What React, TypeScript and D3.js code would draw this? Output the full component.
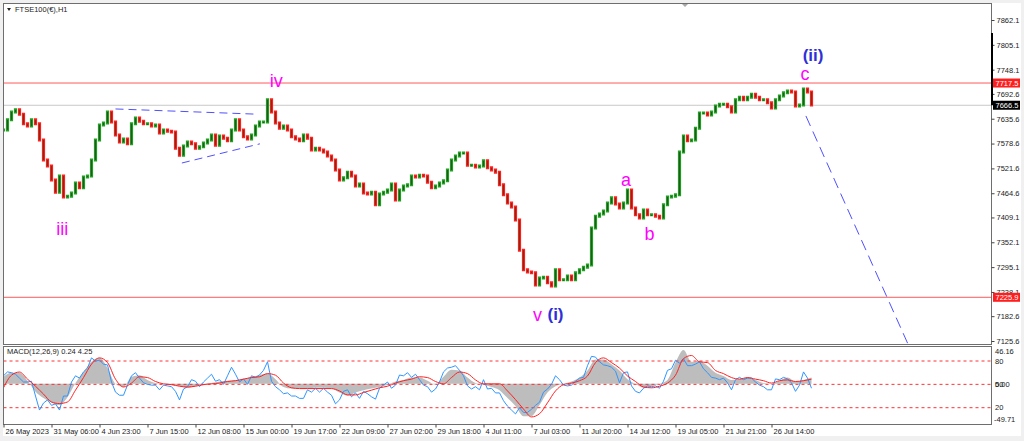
import React, { useEffect, useRef } from "react";
import * as d3 from "d3";

// ---- data ----
const symbolTitle = "FTSE100(€),H1";
const macdTitle = "MACD(12,26,9) 0.24 4.25";

// closing prices, one candle per slot (oldest first)
const closes = [
  7610, 7633, 7651, 7656, 7646, 7624, 7619, 7633, 7624, 7587,
  7541, 7527, 7495, 7467, 7504, 7456, 7458, 7465, 7488, 7477,
  7502, 7504, 7541, 7587, 7621, 7626, 7651, 7628, 7598, 7582,
  7589, 7578, 7624, 7637, 7630, 7624, 7624, 7619, 7621, 7603,
  7610, 7607, 7605, 7568, 7552, 7573, 7582, 7578, 7568, 7571,
  7580, 7587, 7598, 7575, 7596, 7591, 7585, 7610, 7633, 7610,
  7594, 7589, 7598, 7619, 7628, 7628, 7679, 7651, 7626, 7614,
  7619, 7610, 7594, 7589, 7585, 7598, 7591, 7564, 7568, 7564,
  7559, 7550, 7541, 7518, 7495, 7500, 7513, 7504, 7481, 7486,
  7465, 7463, 7467, 7438, 7463, 7467, 7472, 7486, 7449, 7472,
  7481, 7484, 7504, 7502, 7506, 7504, 7490, 7477, 7481, 7488,
  7493, 7518, 7541, 7550, 7557, 7557, 7529, 7529, 7525, 7527,
  7539, 7523, 7518, 7513, 7484, 7461, 7442, 7433, 7403, 7334,
  7289, 7284, 7282, 7254, 7270, 7272, 7259, 7252, 7289, 7266,
  7266, 7275, 7266, 7282, 7289, 7295, 7300, 7385, 7412, 7417,
  7424, 7442, 7454, 7440, 7431, 7442, 7472, 7431, 7415, 7408,
  7426, 7415, 7415, 7412, 7408, 7438, 7456, 7458, 7461, 7559,
  7596, 7585, 7587, 7614, 7649, 7649, 7644, 7651, 7665, 7669,
  7669, 7663, 7651, 7679, 7685, 7679, 7685, 7692, 7685, 7679,
  7679, 7672, 7660, 7679, 7688, 7695, 7699, 7697, 7665, 7667,
  7704, 7697, 7667,
];

// MACD main (grey histogram) and signal (red), every second slot
const macdMain = [
  9, 14, 14, 4, -10, -18, -24, -27, -17, 1,
  15, 28, 33, 20, 0, -4, 9, 11, 5, 1,
  0, -1, -3, -5, -3, 0, 1, 3, 4, 5,
  6, 9, 11, 13, 6, -4, -6, -6, -6, -5,
  -5, -6, -11, -15, -11, -8, -6, -4, -1, 3,
  5, 8, 8, 4, -1, 9, 18, 17, 8, 1,
  -1, -4, -8, -18, -28, -41, -41, -27, -11, -3,
  0, 3, 8, 17, 31, 31, 25, 17, 6, 0,
  -5, -3, 0, 5, 27, 43, 28, 29, 23, 14,
  10, 5, 6, 8, 5, 1, 0, 4, 8, 3,
  5, 8,
];
const macdSignal = [
  -5, 11, 15, 6, -3, -13, -23, -25, -23, -8,
  8, 25, 33, 27, 6, -4, 1, 9, 8, 3,
  0, -1, -3, -4, -3, -1, 0, 1, 3, 4,
  6, 8, 9, 13, 11, 1, -5, -6, -6, -6,
  -6, -6, -9, -14, -14, -11, -8, -5, -3, 1,
  4, 6, 9, 8, 3, 0, 8, 15, 13, 5,
  0, 0, 0, -9, -20, -32, -42, -38, -24, -9,
  -1, 1, 4, 10, 27, 33, 27, 20, 10, 3,
  -4, -5, -3, 1, 11, 32, 36, 28, 27, 17,
  13, 8, 6, 8, 6, 4, 1, 4, 5, 3,
  4, 6,
];

// blue oscillator (0..100 scale, levels 20/50/80), every slot
const oscLine = [
  61, 66, 65, 63, 58, 53, 53, 54, 35, 17,
  26, 30, 23, 25, 17, 35, 35, 53, 61, 58,
  66, 71, 84, 80, 81, 76, 75, 53, 40, 36,
  36, 49, 61, 65, 58, 52, 50, 49, 49, 43,
  49, 48, 47, 41, 30, 44, 47, 56, 54, 47,
  53, 58, 63, 54, 56, 50, 61, 72, 63, 53,
  57, 50, 61, 59, 62, 68, 79, 54, 47, 43,
  38, 39, 35, 35, 32, 32, 43, 40, 45, 40,
  45, 40, 36, 25, 30, 41, 43, 34, 39, 32,
  41, 38, 34, 31, 45, 49, 53, 45, 49, 62,
  61, 65, 59, 63, 56, 49, 47, 40, 44, 53,
  66, 71, 72, 74, 68, 61, 48, 44, 47, 43,
  56, 44, 45, 39, 39, 29, 22, 17, 12, 20,
  14, 14, 18, 23, 27, 40, 44, 50, 61, 56,
  49, 48, 49, 54, 58, 59, 74, 86, 85, 79,
  75, 74, 72, 67, 52, 65, 66, 48, 41, 39,
  45, 48, 47, 48, 45, 54, 68, 70, 81, 77,
  83, 74, 74, 76, 79, 70, 65, 59, 58, 56,
  58, 52, 43, 56, 59, 56, 58, 58, 53, 49,
  47, 43, 43, 57, 56, 59, 57, 52, 41, 49,
  66, 58, 45,
];

const priceTicks = [
  7862.1, 7805.1, 7748.1, 7692.6, 7635.6, 7578.6, 7521.6,
  7464.6, 7409.1, 7352.1, 7295.1, 7238.1, 7182.6, 7125.6,
];
const timeLabels = [
  "26 May 2023", "31 May 06:00", "4 Jun 23:00", "7 Jun 15:00", "12 Jun 08:00",
  "15 Jun 00:00", "19 Jun 17:00", "22 Jun 09:00", "27 Jun 02:00", "29 Jun 18:00",
  "4 Jul 11:00", "7 Jul 03:00", "11 Jul 20:00", "14 Jul 12:00", "19 Jul 05:00",
  "21 Jul 21:00", "26 Jul 14:00",
];
const slotsPerLabel = 12;

const resistance = 7717.5;
const support = 7225.9;
const bid = 7666.5;
const spreadTop = 7832;

const oscLevels = [80, 50, 20];
const macdMax = 46.16;
const macdMin = -49.71;

// Elliott wave labels (slot, price)
const waveLabels = [
  { text: "iii", slot: 14.7, price: 7369, kind: "minor" },
  { text: "iv", slot: 68.2, price: 7708, kind: "minor" },
  { text: "v", slot: 133.5, price: 7171, kind: "minor" },
  { text: "(i)", slot: 138, price: 7174, kind: "major" },
  { text: "a", slot: 155.6, price: 7481, kind: "minor" },
  { text: "b", slot: 161.5, price: 7357, kind: "minor" },
  { text: "c", slot: 200.4, price: 7724, kind: "minor" },
  { text: "(ii)", slot: 202.4, price: 7767, kind: "major" },
];

// drawn trend lines (slot, price) -> (slot, price)
const trendLines = [
  { s1: 28, p1: 7658, s2: 63.4, p2: 7646, dash: "8,5" },
  { s1: 44.6, p1: 7534, s2: 64.1, p2: 7578, dash: "8,5" },
  { s1: 200.6, p1: 7642, s2: 226.1, p2: 7119, dash: "11,6" },
];

const FONT = "'Liberation Sans', Arial, sans-serif";

const App: React.FC = () => {
  const svgRef = useRef<SVGSVGElement | null>(null);

  useEffect(() => {
    document.body.style.margin = "0";
    if (!svgRef.current) return;

    const W = 1024;
    const H = 441;
    const left = 3.5;
    const top = 3.5;
    const right = 991.5;
    const mainBottom = 344.5;
    const macdTop = 346.5;
    const macdBottom = 424.5;

    const svg = d3.select(svgRef.current).attr("width", W).attr("height", H);
    svg.selectAll("*").remove();

    // fond gris + zone blanche
    svg.append("rect").attr("width", W).attr("height", H).attr("fill", "#f0f0f0");
    svg.append("rect").attr("x", 3).attr("y", 3).attr("width", 1018).attr("height", 433).attr("fill", "#fff");

    // Échelles
    const x = d3.scaleLinear().domain([0, 247]).range([left, right]);
    const y = d3.scaleLinear().domain([7125.6, 7862.1]).range([341, 20]);
    const yMacd = d3.scaleLinear().domain([macdMin, macdMax]).range([423, 347.5]);
    const yOsc = d3.scaleLinear().domain([20, 80]).range([407.7, 361]);

    const defs = svg.append("defs");
    defs.append("clipPath").attr("id", "mainClip")
      .append("rect").attr("x", left).attr("y", top)
      .attr("width", right - left).attr("height", mainBottom - top);
    defs.append("clipPath").attr("id", "macdClip")
      .append("rect").attr("x", left).attr("y", macdTop)
      .attr("width", right - left).attr("height", macdBottom - macdTop);

    const main = svg.append("g").attr("clip-path", "url(#mainClip)");

    // niveaux horizontaux
    [resistance, support].forEach((p) => {
      main.append("line")
        .attr("x1", left).attr("x2", right)
        .attr("y1", y(p)).attr("y2", y(p))
        .style("stroke", "#ff5a5a").style("stroke-width", 1);
    });
    main.append("line")
      .attr("x1", left).attr("x2", right)
      .attr("y1", y(bid)).attr("y2", y(bid))
      .style("stroke", "#c8c8c8").style("stroke-width", 1);

    // bougies : mèche colorée + corps sombre
    const candles = closes.map((c, i) => ({ i, open: i === 0 ? c : closes[i - 1], close: c }));
    const gCandles = main.append("g");
    gCandles.selectAll("line.wick")
      .data(candles)
      .enter()
      .append("line")
      .attr("class", "wick")
      .attr("x1", (d) => x(d.i)).attr("x2", (d) => x(d.i))
      .attr("y1", (d) => y(Math.max(d.open, d.close)) - 1.5)
      .attr("y2", (d) => y(Math.min(d.open, d.close)) + 1.5)
      .style("stroke", (d) => (d.close >= d.open ? "#22a022" : "#ff2020"))
      .style("stroke-width", 3.2);
    gCandles.selectAll("rect.body")
      .data(candles)
      .enter()
      .append("rect")
      .attr("class", "body")
      .attr("x", (d) => x(d.i) - 0.6)
      .attr("y", (d) => y(Math.max(d.open, d.close)))
      .attr("width", 1.2)
      .attr("height", (d) => Math.max(1, Math.abs(y(d.open) - y(d.close))))
      .attr("fill", (d) => (d.close >= d.open ? "#1d5e1d" : "#8a2a10"));

    // lignes de tendance pointillées
    main.selectAll("line.trend")
      .data(trendLines)
      .enter()
      .append("line")
      .attr("class", "trend")
      .attr("x1", (d) => x(d.s1)).attr("y1", (d) => y(d.p1))
      .attr("x2", (d) => x(d.s2)).attr("y2", (d) => y(d.p2))
      .style("stroke", "#5050ff")
      .style("stroke-width", 1)
      .style("stroke-dasharray", (d) => d.dash);

    // étiquettes de vagues
    main.selectAll("text.wave")
      .data(waveLabels)
      .enter()
      .append("text")
      .attr("class", "wave")
      .attr("x", (d) => x(d.slot))
      .attr("y", (d) => y(d.price))
      .attr("text-anchor", "middle")
      .style("font-family", FONT)
      .style("font-size", (d) => (d.kind === "major" ? "17px" : "18px"))
      .style("font-weight", (d) => (d.kind === "major" ? "bold" : "normal"))
      .style("fill", (d) => (d.kind === "major" ? "#2f2fd8" : "#ff00ff"))
      .text((d) => d.text);

    // titre
    svg.append("path").attr("d", "M7,8 L11,8 L9,11 Z").attr("fill", "#222");
    svg.append("text")
      .attr("x", 15).attr("y", 12)
      .style("font-family", FONT).style("font-size", "7.5px").style("fill", "#222")
      .text(symbolTitle);

    // petit repère en haut
    svg.append("path").attr("d", "M681,3 L689,3 L685,7 Z").attr("fill", "#a8a8a8");

    // ---- panneau MACD ----
    const macd = svg.append("g").attr("clip-path", "url(#macdClip)");
    const macdPts = macdMain.map((v, j) => ({ s: j * 2, v }));
    const sigPts = macdSignal.map((v, j) => ({ s: j * 2, v }));

    macd.append("path")
      .datum(macdPts)
      .attr("d", d3.area<{ s: number; v: number }>()
        .x((d) => x(d.s))
        .y0(yMacd(0))
        .y1((d) => yMacd(d.v))
        .curve(d3.curveMonotoneX))
      .attr("fill", "#bdbdbd");

    oscLevels.forEach((lv) => {
      macd.append("line")
        .attr("x1", left).attr("x2", right)
        .attr("y1", yOsc(lv)).attr("y2", yOsc(lv))
        .style("stroke", "#ff3030").style("stroke-width", 1)
        .style("stroke-dasharray", "3,3");
    });

    macd.append("path")
      .datum(oscLine)
      .attr("d", d3.line<number>().x((_, i) => x(i)).y((d) => yOsc(d)))
      .attr("fill", "none")
      .style("stroke", "#2f96ff")
      .style("stroke-width", 1);

    macd.append("path")
      .datum(sigPts)
      .attr("d", d3.line<{ s: number; v: number }>()
        .x((d) => x(d.s)).y((d) => yMacd(d.v))
        .curve(d3.curveMonotoneX))
      .attr("fill", "none")
      .style("stroke", "#ff2020")
      .style("stroke-width", 1);

    svg.append("text")
      .attr("x", 7).attr("y", 354)
      .style("font-family", FONT).style("font-size", "7.5px").style("fill", "#222")
      .text(macdTitle);

    // cadres
    svg.append("rect")
      .attr("x", left).attr("y", top)
      .attr("width", right - left).attr("height", mainBottom - top)
      .attr("fill", "none").style("stroke", "#6e6e6e");
    svg.append("rect")
      .attr("x", left).attr("y", macdTop)
      .attr("width", right - left).attr("height", macdBottom - macdTop)
      .attr("fill", "none").style("stroke", "#6e6e6e");

    // Axe des prix (droite)
    const priceAxis = svg.append("g")
      .attr("transform", `translate(${right}, 0)`)
      .call(d3.axisRight(y).tickValues(priceTicks).tickSize(3).tickPadding(2)
        .tickFormat((d) => d3.format(".1f")(d as number)));
    priceAxis.select(".domain").remove();
    priceAxis.selectAll("line").style("stroke", "#444");
    priceAxis.selectAll("text")
      .style("font-family", FONT).style("font-size", "7.5px").style("fill", "#222");

    // trait noir sur l'axe
    svg.append("line")
      .attr("x1", right + 0.5).attr("x2", right + 0.5)
      .attr("y1", y(spreadTop)).attr("y2", y(bid))
      .style("stroke", "#000").style("stroke-width", 2);

    // étiquettes de prix colorées
    const priceTags = [
      { price: resistance, bg: "#ff1e1e" },
      { price: bid, bg: "#000" },
      { price: support, bg: "#ff1e1e" },
    ];
    priceTags.forEach((t) => {
      svg.append("rect")
        .attr("x", right + 1.5).attr("y", y(t.price) - 4.5)
        .attr("width", 27).attr("height", 9)
        .attr("fill", t.bg);
      svg.append("text")
        .attr("x", right + 4).attr("y", y(t.price) + 2.7)
        .style("font-family", FONT).style("font-size", "7.5px").style("fill", "#fff")
        .text(t.price.toFixed(1));
    });

    // Axe MACD (droite)
    const macdTags = [
      { label: macdMax.toFixed(2), py: yMacd(macdMax) + 3.5 },
      { label: "80", py: yOsc(80) },
      { label: "0.00", py: yMacd(0) },
      { label: "50", py: yOsc(50) },
      { label: "20", py: yOsc(20) },
      { label: macdMin.toFixed(2), py: yMacd(macdMin) - 4 },
    ];
    svg.selectAll("text.macdTag")
      .data(macdTags)
      .enter()
      .append("text")
      .attr("class", "macdTag")
      .attr("x", (d) => (d.label.startsWith("-") ? right + 2.5 : right + 3.5))
      .attr("y", (d) => d.py + 2.7)
      .style("font-family", FONT).style("font-size", "7.5px").style("fill", "#222")
      .text((d) => d.label);

    // Axe du temps (bas)
    const timeAxis = svg.append("g")
      .attr("transform", `translate(0, ${macdBottom})`)
      .call(d3.axisBottom(x)
        .tickValues(timeLabels.map((_, k) => k * slotsPerLabel))
        .tickSize(3).tickPadding(1)
        .tickFormat((_, k) => timeLabels[k]));
    timeAxis.select(".domain").remove();
    timeAxis.selectAll("line").style("stroke", "#444");
    timeAxis.selectAll("text")
      .attr("text-anchor", "start")
      .attr("x", 1.5)
      .style("font-family", FONT).style("font-size", "7.5px").style("fill", "#222");
  }, []);

  return <svg ref={svgRef} style={{ display: "block" }}></svg>;
};

export default App;
